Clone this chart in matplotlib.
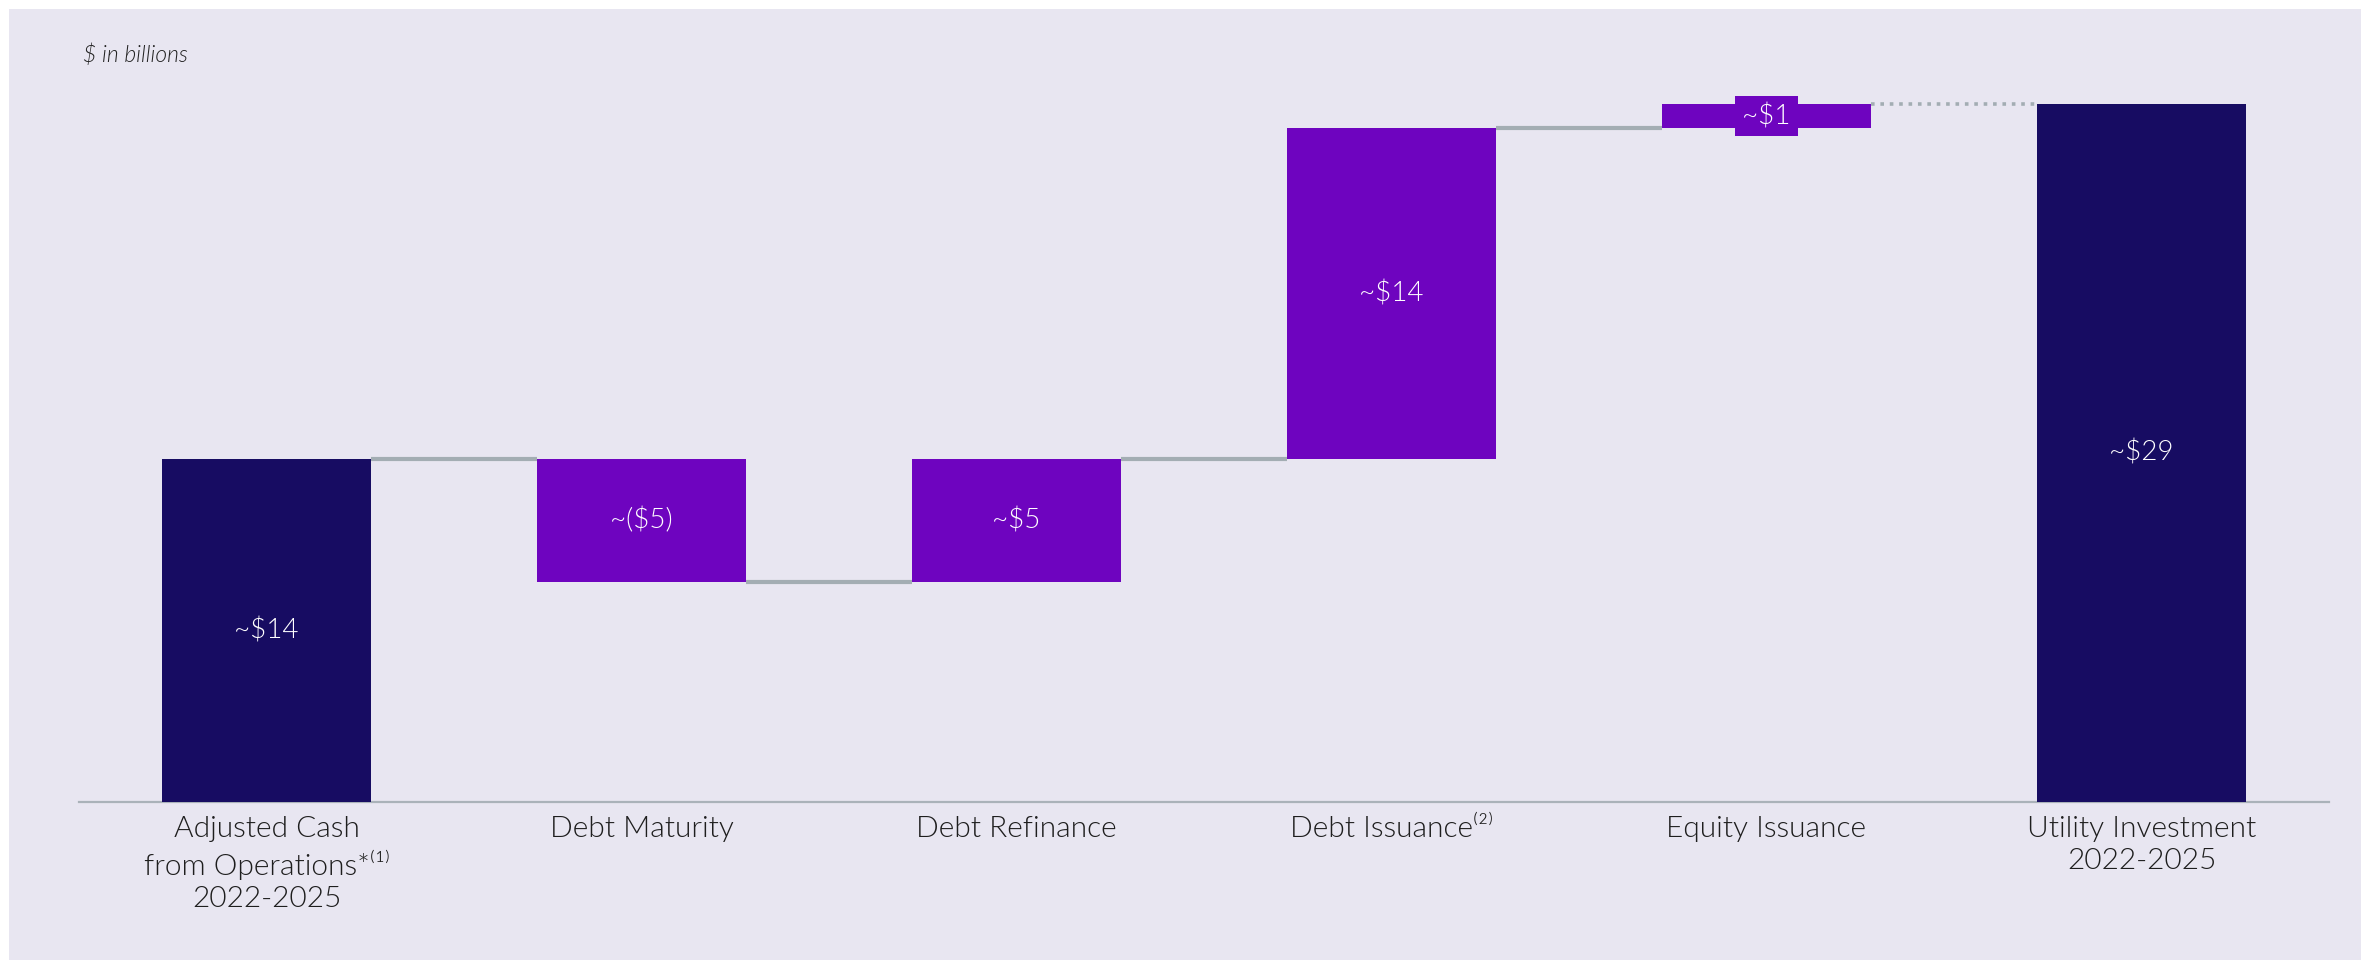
import matplotlib
matplotlib.use('Agg')
import matplotlib.pyplot as plt
from matplotlib.patches import Rectangle

# =====[ Data ]=====
categories = [
    'Adjusted Cash\nfrom Operations*\u207D\u00B9\u207E\n2022-2025',
    'Debt Maturity',
    'Debt Refinance',
    'Debt Issuance\u207D\u00B2\u207E',
    'Equity Issuance',
    'Utility Investment\n2022-2025',
]
steps = [14.0, -5.0, 5.0, 13.5, 1.0]   # first is the starting total
total = 28.5
value_labels = ['~$14', '~($5)', '~$5', '~$14', '~$1', '~$29']

# =====[ Style ]=====
W, H = 2361, 960
navy = '#170C62'
purple = '#6E04BF'
panel = '#E8E6F1'
connector = '#A3ADB3'
text_dark = '#1E1E1E'
fonts = ['Lato', 'DejaVu Sans']
plt.rcParams['font.family'] = fonts
LIGHT = 300

fig = plt.figure(figsize=(W / 100, H / 100), dpi=100, facecolor='white')
fig.patches.append(Rectangle((9 / W, 0), 1 - 9 / W, 1 - 9 / H,
                             transform=fig.transFigure, facecolor=panel,
                             edgecolor='none', zorder=-10))

x0, x1 = 79, 2329
y_base = 802
px_per_unit = 24.5
ax_h = 760
ax = fig.add_axes([x0 / W, 1 - y_base / H, (x1 - x0) / W, ax_h / H])
ax.set_facecolor('none')
ax.set_xlim(-0.5, 5.5)
ax.set_ylim(0, ax_h / px_per_unit)

# =====[ Bars ]=====
width = 0.558
bottoms, heights, colors = [], [], []
level = 0.0
for i, s in enumerate(steps):
    if i == 0:
        bottoms.append(0.0)
        heights.append(s)
        colors.append(navy)
    else:
        bottoms.append(min(level, level + s))
        heights.append(abs(s))
        colors.append(purple)
    level += s
bottoms.append(0.0)
heights.append(total)
colors.append(navy)

xs = list(range(len(categories)))
ax.bar(xs, heights, bottom=bottoms, width=width, color=colors, zorder=3)

# connectors
level = 0.0
for i, s in enumerate(steps):
    level += s
    if i < len(steps) - 1:
        ax.plot([i + width / 2, i + 1 - width / 2], [level, level],
                color=connector, lw=3, solid_capstyle='butt', zorder=2)
    else:
        ax.plot([i + width / 2, i + 1 - width / 2], [level, level],
                color=connector, lw=2.6, linestyle=(0, (1, 1.6)),
                dash_capstyle='butt', zorder=2)

# value labels
for x, b, h, lab in zip(xs, bottoms, heights, value_labels):
    kw = {}
    if h < 2:
        kw['bbox'] = dict(boxstyle='square,pad=0.25', facecolor=purple,
                          edgecolor='none')
    ax.text(x, b + h / 2, lab, ha='center', va='center', color='white',
            fontsize=20, fontweight=LIGHT, zorder=5, **kw)

# axis
for side in ['top', 'right', 'left']:
    ax.spines[side].set_visible(False)
ax.spines['bottom'].set_color('#AAB2B9')
ax.spines['bottom'].set_linewidth(1.6)
ax.set_yticks([])
ax.set_xticks(xs)
ax.set_xticklabels(categories, fontsize=21.5, fontweight=LIGHT,
                   color=text_dark, linespacing=1.3)
ax.tick_params(axis='x', length=0, pad=10)

fig.text(83 / W, 1 - 55 / H, '$ in billions', ha='left', va='center',
         fontsize=16.5, style='italic', fontweight=LIGHT, color='#222222')

fig.savefig('out.png', dpi=100, facecolor=fig.get_facecolor())
